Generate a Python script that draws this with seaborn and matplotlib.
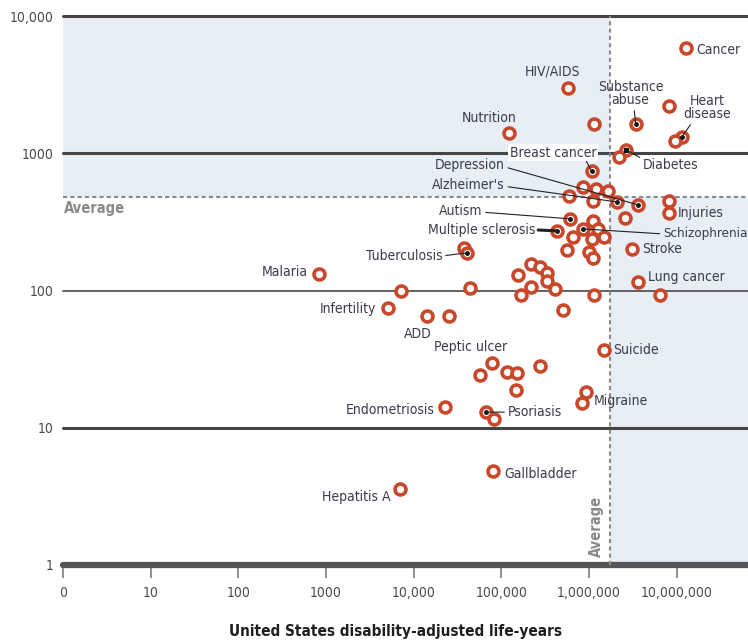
import matplotlib.pyplot as plt
import pandas as pd
import seaborn as sns

# Data (x: US disability-adjusted life-years, y: count)
diseases = [
    "Cancer", "HIV/AIDS", "Substance\nabuse", "", "", "Heart\ndisease", "",
    "Nutrition", "Breast cancer", "Diabetes", "", "", "", "", "", "",
    "Alzheimer's", "Depression", "", "Injuries", "", "Autism", "",
    "Multiple sclerosis", "Schizophrenia", "", "", "", "", "", "", "",
    "Stroke", "", "Tuberculosis", "", "", "", "", "", "", "", "", "",
    "Lung cancer", "", "", "", "Infertility", "ADD", "", "", "Suicide",
    "Peptic ulcer", "", "", "", "", "", "Migraine", "", "Endometriosis",
    "Psoriasis", "", "Gallbladder", "Hepatitis A", "Malaria",
]
us_dalys = [
    1.27e7, 5.7e5, 3.4e6, 1.13e6, 8.1e6, 1.15e7, 9.5e6,
    1.22e5, 1.07e6, 2.63e6, 2.19e6, 8.5e5, 1.2e6, 1.63e6, 5.9e5, 1.1e6,
    2.08e6, 3.6e6, 8.1e6, 8.1e6, 2.56e6, 6.0e5, 1.1e6,
    4.3e5, 8.5e5, 1.26e6, 6.5e5, 1.07e6, 1.48e6, 5.6e5, 1.0e6, 1.1e6,
    3.1e6, 3.7e4, 4.1e4, 2.2e5, 2.75e5, 1.55e5, 3.3e5, 3.3e5, 2.2e5, 4.1e5, 1.66e5, 1.14e6,
    3.6e6, 6.4e6, 7.1e3, 4.4e4, 5.1e3, 1.4e4, 2.5e4, 5.0e5, 1.5e6,
    7.8e4, 5.7e4, 1.15e5, 1.5e5, 2.75e5, 1.46e5, 9.2e5, 8.3e5, 2.3e4,
    6.6e4, 8.2e4, 8.0e4, 6.9e3, 830,
]
studies = [
    5800, 3000, 1640, 1640, 2200, 1320, 1230,
    1400, 745, 1060, 940, 570, 550, 530, 490, 450,
    442, 421, 450, 368, 338, 333, 322,
    272, 281, 281, 246, 238, 246, 198, 191, 173,
    200, 204, 188, 156, 149, 130, 134, 117, 106, 103, 93, 93,
    116, 93, 99, 104, 75, 65, 65, 72, 37,
    29.7, 24.3, 25.5, 25, 28.3, 18.9, 18.2, 15.2, 14.2,
    13.0, 11.6, 4.8, 3.6, 132,
]
x_average = 1.73e6
y_average = 480

x_ticks = [1, 10, 100, 1000, 1e4, 1e5, 1e6, 1e7]
x_tick_labels = ["0", "10", "100", "1000", "10,000", "100,000", "1,000,000", "10,000,000"]
y_ticks = [1, 10, 100, 1000, 10000]
y_tick_labels = ["1", "10", "100", "1000", "10,000"]

df = pd.DataFrame({"disease": diseases, "dalys": us_dalys, "count": studies})

sns.set_style("white")
plt.rcParams["font.family"] = ["DejaVu Sans"]
plt.rcParams["font.stretch"] = "condensed"

ring = "#c9482b"
ink = "#3b3b4c"
shade = "#e7eef6"
x_max = 6.5e7

fig = plt.figure(figsize=(7.48, 6.4), dpi=100)
ax = fig.add_axes([63 / 748, 75 / 640, 685 / 748, 549 / 640])
ax.set_xscale("log")
ax.set_yscale("log")
ax.set_xlim(1, x_max)
ax.set_ylim(1, 10000)

# quadrant shading
ax.fill_between([1, x_average], y_average, 10000, color=shade, lw=0, zorder=0)
ax.fill_between([x_average, x_max], 1, y_average, color=shade, lw=0, zorder=0)

# horizontal rules
for yv, w, c in zip(y_ticks, [4.5, 2.2, 1.3, 2.2, 2.2], ["#555", "#444", "#555", "#444", "#444"]):
    ax.axhline(yv, color=c, lw=w, zorder=1, clip_on=False)

ax.axhline(y_average, color="#8a8a8a", lw=1.5, ls=(0, (2, 1.5)), zorder=1)
ax.axvline(x_average, color="#8a8a8a", lw=1.5, ls=(0, (2, 1.5)), zorder=1)

sns.scatterplot(data=df, x="dalys", y="count", ax=ax, marker="o", s=62,
                facecolor="white", edgecolor=ring, linewidth=2.6, zorder=3,
                legend=False)

# label layout: offset pixels, alignment, leader start (relpos) or None
layout = {
    "Cancer": (10, -2, "left", None),
    "HIV/AIDS": (-15, 16, "center", None),
    "Substance\nabuse": (-5, 30, "center", (0.55, 0)),
    "Heart\ndisease": (25, 29, "center", (0.2, 0)),
    "Nutrition": (-20, 15, "center", None),
    "Breast cancer": (5, 18, "right", (0.87, 0)),
    "Diabetes": (17, -15, "left", (0, 0.9)),
    "Depression": (-133, 40, "right", (1, 0.35)),
    "Alzheimer's": (-112, 17, "right", (1, 0.4)),
    "Autism": (-87, 8, "right", (1, 0.4)),
    "Multiple sclerosis": (-22, 1, "right", (1, 0.5)),
    "Schizophrenia": (80, -5, "left", (0, 0.5)),
    "Injuries": (9, 0, "left", None),
    "Stroke": (10, 0, "left", None),
    "Tuberculosis": (-25, -3, "right", (1, 0.5)),
    "Malaria": (-11, 2, "right", None),
    "Lung cancer": (10, 5, "left", None),
    "Infertility": (-12, -1, "right", None),
    "ADD": (-9, -18, "center", None),
    "Peptic ulcer": (-21, 16, "center", None),
    "Suicide": (9, 0, "left", None),
    "Migraine": (8, -9, "left", None),
    "Endometriosis": (-11, -3, "right", None),
    "Psoriasis": (22, 0, "left", (0, 0.5)),
    "Gallbladder": (11, -3, "left", None),
    "Hepatitis A": (-9, -8, "right", None),
}

for name, xv, yv in zip(diseases, us_dalys, studies):
    if not name:
        continue
    dx, dy, ha, rel = layout[name]
    kw = {}
    if rel is not None:
        lw = 2.2 if name == "Multiple sclerosis" else 0.8
        kw["arrowprops"] = dict(arrowstyle="-", color="#222", lw=lw,
                                shrinkA=0, shrinkB=0, relpos=rel)
    if name == "Breast cancer":
        kw["bbox"] = dict(boxstyle="square,pad=0.12", fc="white", ec="none")
    size = 9.6 if name == "Schizophrenia" else 10
    ax.annotate(name, xy=(xv, yv), xytext=(dx, dy), textcoords="offset pixels",
                ha=ha, va="center", multialignment="center", fontsize=size,
                color=ink, linespacing=0.95, zorder=5, **kw)
    if rel is not None:
        marker = "s" if name == "Diabetes" else "o"
        ax.plot(xv, yv, marker=marker, ms=2.5, color="#111", zorder=4)

# "Average" labels
ax.annotate("Average", xy=(1, y_average), xytext=(1, -4), textcoords="offset pixels",
            ha="left", va="top", fontsize=10.5, fontweight="bold", color="#8a8a8a")
ax.annotate("Average", xy=(x_average, 1), xytext=(-13, 8), textcoords="offset pixels",
            ha="center", va="bottom", rotation=90, fontsize=10.5, fontweight="bold",
            color="#8a8a8a")

ax.set_xticks(x_ticks)
ax.set_xticklabels(x_tick_labels)
ax.set_yticks(y_ticks)
ax.set_yticklabels(y_tick_labels)
ax.minorticks_off()
ax.tick_params(axis="x", direction="out", length=9, width=1.3, color="#888",
               pad=6, labelsize=10, labelcolor="#4a4a4a", bottom=True)
ax.tick_params(axis="y", length=0, pad=7, labelsize=10, labelcolor="#4a4a4a")
for s in ax.spines.values():
    s.set_visible(False)
ax.grid(False)

ax.set_ylabel("")
ax.set_xlabel("United States disability-adjusted life-years", fontsize=11,
              fontweight="bold", color="#1e1e1e")
ax.xaxis.set_label_coords(0.485, -0.107)

fig.savefig("out.png", dpi=100)
